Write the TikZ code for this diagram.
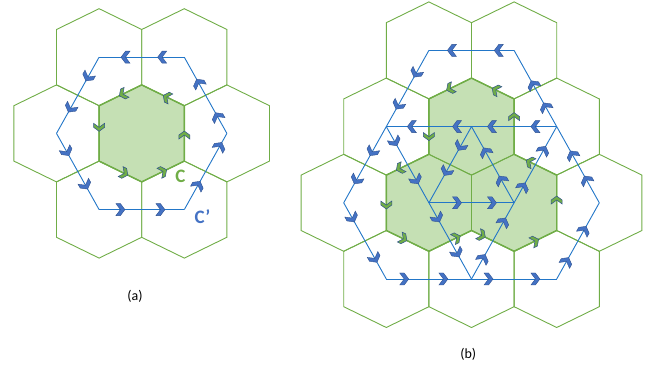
\documentclass[tikz,border=0pt]{standalone}
\usepackage{fontspec}
\setmainfont{Carlito}
\usetikzlibrary{decorations.markings}
\definecolor{hexgreen}{RGB}{112,173,71}
\definecolor{lightgreen}{RGB}{197,224,180}
\definecolor{lineblue}{RGB}{34,118,200}
\definecolor{chevblue}{RGB}{68,114,196}
\definecolor{chevedge}{RGB}{47,82,143}
\newcommand\mychevB{\filldraw[fill=chevblue,draw=chevedge,line width=0.4pt] (-4.5,-6) -- (0,-6) -- (4.5,0) -- (0,6) -- (-4.5,6) -- (0,0) -- cycle;}
\newcommand\mychevG{\filldraw[fill=hexgreen,draw=chevedge,line width=0.5pt] (-4,-5.5) -- (0,-5.5) -- (4,0) -- (0,5.5) -- (-4,5.5) -- (0,0) -- cycle;}
\tikzset{
  hexpath/.pic={\path[pic actions] (0,-48.5) -- (42.6,-27.7) -- (42.6,27.7) -- (0,48.5) -- (-42.6,27.7) -- (-42.6,-27.7) -- cycle;},
  hexfill/.style={fill=lightgreen},
  hexedge/.style={draw=hexgreen,line width=0.9pt},
  rim/.style={draw=hexgreen,line width=1.4pt,line join=round},
  cline/.style={draw=lineblue,line width=0.9pt},
  bchev/.style 2 args={postaction={decorate,decoration={markings,mark=at position #1 with {\mychevB},mark=at position #2 with {\mychevB}}}},
  gchev/.style={postaction={decorate,decoration={markings,mark=at position #1 with {\mychevG}}}},
  glabel/.style={text=hexgreen,font=\bfseries\fontsize{19}{19}\selectfont,inner sep=0pt},
  blabel/.style={text=chevblue,font=\bfseries\fontsize{19}{19}\selectfont,inner sep=0pt},
  caption/.style={font=\fontsize{14}{14}\selectfont,inner sep=0pt}
}
\begin{document}
\begin{tikzpicture}[x=1pt,y=-1pt]
\useasboundingbox (0,0) rectangle (654,366);
% ---------- (a) ----------
\coordinate (a0) at (141.7,133.4);
\coordinate (aTL) at (99.1,57.2);
\coordinate (aTR) at (184.3,57.2);
\coordinate (aL) at (56.5,133.4);
\coordinate (aR) at (226.9,133.4);
\coordinate (aBL) at (99.1,209.6);
\coordinate (aBR) at (184.3,209.6);
\coordinate (aT) at (141.7,84.9);
\coordinate (aUL) at (99.1,105.7);
\coordinate (aLL) at (99.1,161.1);
\coordinate (aB) at (141.7,181.9);
\coordinate (aLR) at (184.3,161.1);
\coordinate (aUR) at (184.3,105.7);
\pic[hexfill] at (a0) {hexpath};
\foreach \h in {a0,aTL,aTR,aL,aR,aBL,aBR} {\pic[hexedge] at (\h) {hexpath};}
\draw[rim] (aT) -- (aUL) -- (aLL) -- (aB) -- (aLR) -- (aUR) -- cycle;
\draw[cline,bchev={0.26}{0.69}] (aTR) -- (aTL);
\draw[cline,bchev={0.26}{0.67}] (aTL) -- (aL);
\draw[cline,bchev={0.24}{0.68}] (aL) -- (aBL);
\draw[cline,bchev={0.25}{0.72}] (aBL) -- (aBR);
\draw[cline,bchev={0.32}{0.83}] (aBR) -- (aR);
\draw[cline,bchev={0.22}{0.66}] (aR) -- (aTR);
\path[gchev=0.44] (aT) -- (aUL);
\path[gchev=0.39] (aUL) -- (aLL);
\path[gchev=0.59] (aLL) -- (aB);
\path[gchev=0.5] (aB) -- (aLR);
\path[gchev=0.47] (aLR) -- (aUR);
\path[gchev=0.41] (aUR) -- (aT);
\node[glabel] (labC) at (180.5,176.3) {C};
\node[blabel] (labCp) at (202.5,216.3) {C’};
\node[caption] (capa) at (135,296) {(a)};
% ---------- (b) ----------
\coordinate (bT1) at (428.9,50.4);
\coordinate (bT2) at (514.1,50.4);
\coordinate (bM2L) at (386.3,126.6);
\coordinate (bM2M) at (471.5,126.6);
\coordinate (bM2R) at (556.7,126.6);
\coordinate (bL3) at (343.7,202.8);
\coordinate (bM3L) at (428.9,202.8);
\coordinate (bM3R) at (514.1,202.8);
\coordinate (bR3) at (599.3,202.8);
\coordinate (bB4L) at (386.3,279);
\coordinate (bB4M) at (471.5,279);
\coordinate (bB4R) at (556.7,279);
\coordinate (g1) at (471.5,78.1);
\coordinate (g2) at (428.9,98.9);
\coordinate (g3) at (428.9,154.3);
\coordinate (g4) at (386.3,175.1);
\coordinate (g5) at (386.3,230.5);
\coordinate (g6) at (428.9,251.3);
\coordinate (g7) at (471.5,230.5);
\coordinate (g8) at (514.1,251.3);
\coordinate (g9) at (556.7,230.5);
\coordinate (g10) at (556.7,175.1);
\coordinate (g11) at (514.1,154.3);
\coordinate (g12) at (514.1,98.9);
\foreach \h in {bM2M,bM3L,bM3R} {\pic[hexfill] at (\h) {hexpath};}
\foreach \h in {bT1,bT2,bM2L,bM2M,bM2R,bL3,bM3L,bM3R,bR3,bB4L,bB4M,bB4R} {\pic[hexedge] at (\h) {hexpath};}
\draw[rim] (g1) -- (g2) -- (g3) -- (g4) -- (g5) -- (g6) -- (g7) -- (g8) -- (g9) -- (g10) -- (g11) -- (g12) -- cycle;
% outer loop
\draw[cline,bchev={0.18}{0.73}] (bT2) -- (bT1);
\draw[cline,bchev={0.3}{0.72}] (bT1) -- (bM2L);
\draw[cline,bchev={0.33}{0.7}] (bM2L) -- (bL3);
\draw[cline,bchev={0.2}{0.73}] (bL3) -- (bB4L);
\draw[cline,bchev={0.21}{0.67}] (bB4L) -- (bB4M);
\draw[cline,bchev={0.2}{0.75}] (bB4M) -- (bB4R);
\draw[cline,bchev={0.23}{0.64}] (bB4R) -- (bR3);
\draw[cline,bchev={0.3}{0.63}] (bR3) -- (bM2R);
\draw[cline,bchev={0.26}{0.55}] (bM2R) -- (bT2);
% inner edges
\draw[cline,bchev={0.25}{0.76}] (bM2R) -- (bM2M);
\draw[cline,bchev={0.17}{0.7}] (bM2M) -- (bM2L);
\draw[cline,bchev={0.2}{0.7}] (bM2L) -- (bM3L);
\draw[cline,bchev={0.2}{0.66}] (bM3L) -- (bB4M);
\draw[cline,bchev={0.27}{0.75}] (bB4M) -- (bM3R);
\draw[cline,bchev={0.21}{0.69}] (bM3R) -- (bM2R);
\draw[cline,bchev={0.26}{0.59}] (bM2M) -- (bM3L);
\draw[cline,bchev={0.3}{0.67}] (bM3R) -- (bM2M);
\draw[cline,bchev={0.33}{0.74}] (bM3L) -- (bM3R);
% green chevrons
\path[gchev=0.5] (g1) -- (g2);
\path[gchev=0.68] (g2) -- (g3);
\path[gchev=0.68] (g3) -- (g4);
\path[gchev=0.54] (g4) -- (g5);
\path[gchev=0.4] (g5) -- (g6);
\path[gchev=0.65] (g6) -- (g7);
\path[gchev=0.24] (g7) -- (g8);
\path[gchev=0.49] (g8) -- (g9);
\path[gchev=0.55] (g9) -- (g10);
\path[gchev=0.63] (g10) -- (g11);
\path[gchev=0.68] (g11) -- (g12);
\path[gchev=0.43] (g12) -- (g1);
\node[caption] (capb) at (468.3,354.5) {(b)};
\end{tikzpicture}
\end{document}
